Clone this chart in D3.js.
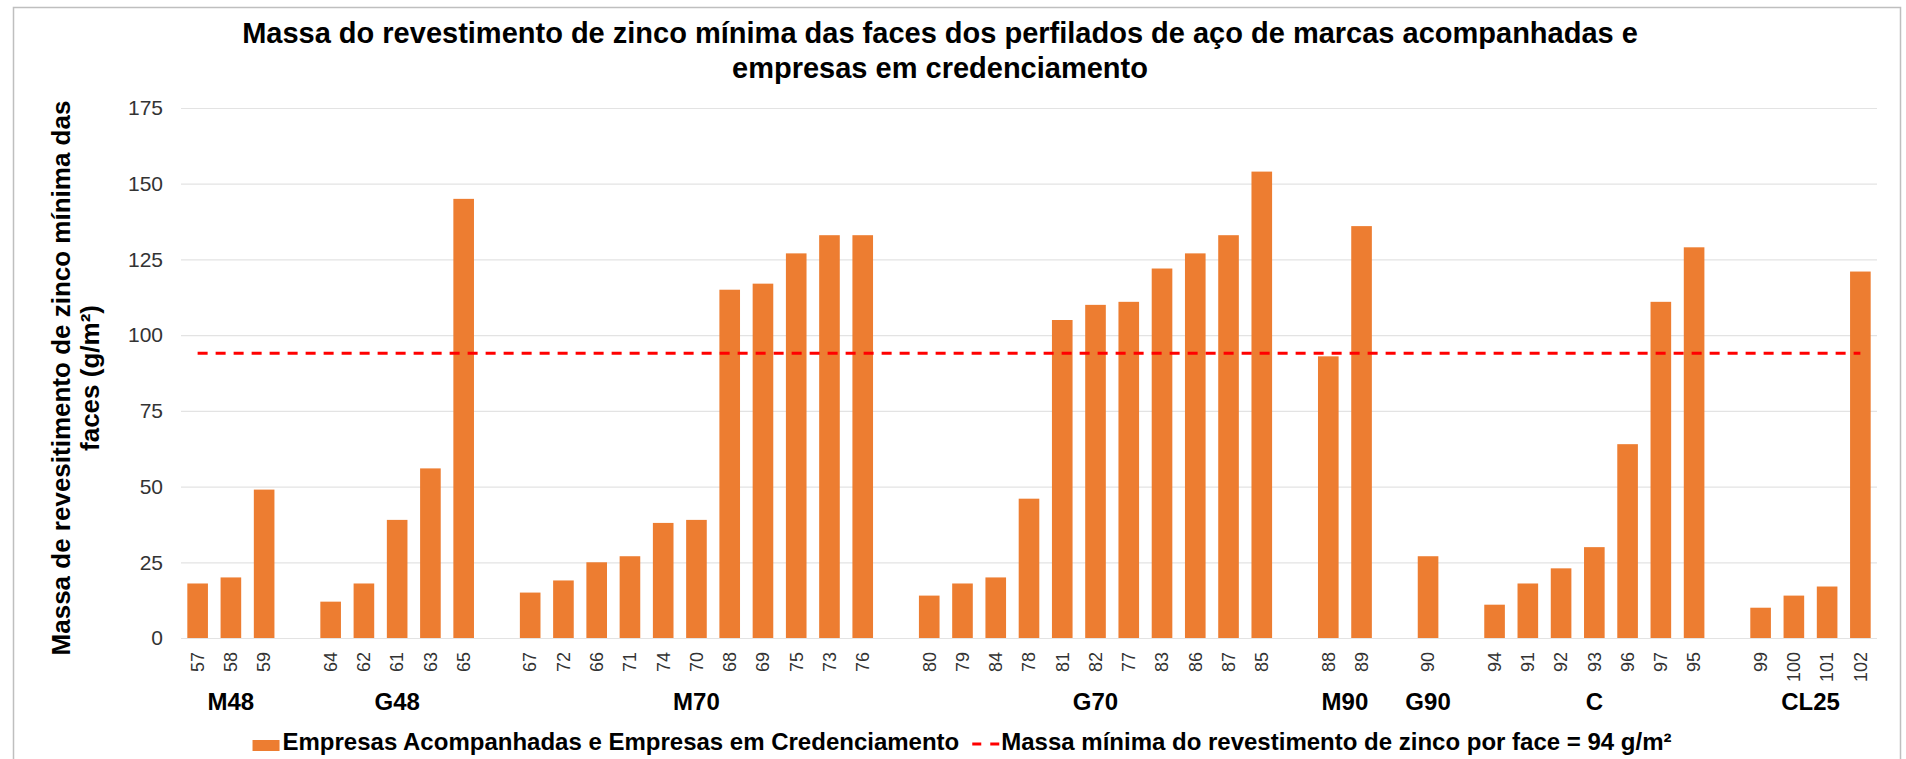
<!DOCTYPE html>
<head>
<meta charset="utf-8" />
</head>
<style>
body { margin: 0; background: #fff; }
svg { display: block; }
text { font-family: "Liberation Sans", Arial, Helvetica, sans-serif; }
.tick text { fill: #333; }
.title { font-size: 29px; font-weight: bold; fill: #000; }
.ytitle { font-size: 26px; font-weight: bold; fill: #000; }
.group { font-size: 24px; font-weight: bold; fill: #000; }
.legend text { font-size: 24px; font-weight: bold; fill: #000; }
</style>
<body>
<script src="https://cdn.jsdelivr.net/npm/d3@7"></script>
<script>
// groups of brands, sample ids and measured minimum zinc mass (g/m2)
var groupNames = ["M48", "G48", "M70", "G70", "M90", "G90", "C", "CL25"];
var sampleIds = [
  [57, 58, 59],
  [64, 62, 61, 63, 65],
  [67, 72, 66, 71, 74, 70, 68, 69, 75, 73, 76],
  [80, 79, 84, 78, 81, 82, 77, 83, 86, 87, 85],
  [88, 89],
  [90],
  [94, 91, 92, 93, 96, 97, 95],
  [99, 100, 101, 102]
];
var zincMass = [
  [18, 20, 49],
  [12, 18, 39, 56, 145],
  [15, 19, 25, 27, 38, 39, 115, 117, 127, 133, 133],
  [14, 18, 20, 46, 105, 110, 111, 122, 127, 133, 154],
  [93, 136],
  [27],
  [11, 18, 23, 30, 64, 111, 129],
  [10, 14, 17, 121]
];
var minMass = 94;
var yTicks = [0, 25, 50, 75, 100, 125, 150, 175];
var seriesName = "Empresas Acompanhadas e Empresas em Credenciamento";
var lineName = "Massa mínima do revestimento de zinco por face = 94 g/m²";

var width = 1906, height = 759;
var margin = {left: 181, right: 29, top: 108, bottom: 121};

// flat list of categories, with an empty slot between groups
var cats = [], bars = [];
groupNames.forEach(function(g, gi) {
  if (gi > 0) cats.push("gap" + gi);
  sampleIds[gi].forEach(function(id, i) {
    cats.push(String(id));
    bars.push({id: String(id), value: zincMass[gi][i], group: g});
  });
});

var svg = d3.select("body").append("svg")
  .attr("width", width)
  .attr("height", height);

// chart area border
svg.append("rect")
  .attr("x", 13.5).attr("y", 7.5)
  .attr("width", 1887).attr("height", 780)
  .attr("fill", "none")
  .attr("stroke", "#bfbfbf")
  .attr("stroke-width", 1.5);

var x = d3.scaleBand()
  .domain(cats)
  .range([margin.left, width - margin.right])
  .paddingInner(0.38)
  .paddingOuter(0.19);

var y = d3.scaleLinear()
  .domain([0, 175])
  .range([height - margin.bottom, margin.top]);

// gridlines + y labels
var yAxis = svg.append("g")
  .attr("transform", "translate(" + margin.left + ",0)")
  .call(d3.axisLeft(y).tickValues(yTicks)
    .tickSize(-(width - margin.left - margin.right))
    .tickPadding(18));
yAxis.select(".domain").remove();
yAxis.selectAll(".tick line").attr("stroke", "#e3e3e3").attr("stroke-width", 1.2);
yAxis.selectAll(".tick text").style("font-size", "21px");

// bars
svg.append("g").selectAll("rect")
  .data(bars)
  .enter().append("rect")
  .attr("x", function(d) { return x(d.id); })
  .attr("y", function(d) { return y(d.value); })
  .attr("width", x.bandwidth())
  .attr("height", function(d) { return y(0) - y(d.value); })
  .attr("fill", "#ED7D31");

// x labels (sample ids), rotated
var xAxis = svg.append("g")
  .attr("transform", "translate(0," + y(0) + ")")
  .call(d3.axisBottom(x).tickSize(0)
    .tickFormat(function(d) { return d.indexOf("gap") === 0 ? "" : d; }));
xAxis.select(".domain").remove();
xAxis.selectAll(".tick text")
  .style("font-size", "18px")
  .attr("text-anchor", "end")
  .attr("dy", "0.35em")
  .attr("transform", "translate(0,14) rotate(-90)")
  .attr("x", 0).attr("y", 0);

// group labels centred under each group
svg.append("g").selectAll("text")
  .data(groupNames)
  .enter().append("text")
  .attr("class", "group")
  .attr("text-anchor", "middle")
  .attr("x", function(g, gi) {
    var ids = sampleIds[gi];
    var a = x(String(ids[0])), b = x(String(ids[ids.length - 1])) + x.bandwidth();
    return (a + b) / 2;
  })
  .attr("y", 710)
  .text(function(g) { return g; });

// minimum line (dashed)
var line = d3.line()
  .x(function(d) { return x(d.id) + x.bandwidth() / 2; })
  .y(function() { return y(minMass); });
svg.append("path")
  .datum([bars[0], bars[bars.length - 1]])
  .attr("d", line)
  .attr("fill", "none")
  .attr("stroke", "#ff0000")
  .attr("stroke-width", 3)
  .attr("stroke-dasharray", "10,8");

// title
var title = svg.append("text")
  .attr("class", "title")
  .attr("text-anchor", "middle");
title.append("tspan").attr("x", 940).attr("y", 43)
  .text("Massa do revestimento de zinco mínima das faces dos perfilados de aço de marcas acompanhadas e");
title.append("tspan").attr("x", 940).attr("y", 78)
  .text("empresas em credenciamento");

// y axis title
var yt = svg.append("text")
  .attr("class", "ytitle")
  .attr("text-anchor", "middle")
  .attr("transform", "translate(0,378) rotate(-90)");
yt.append("tspan").attr("x", 0).attr("y", 70)
  .text("Massa de revesitimento de zinco mínima das");
yt.append("tspan").attr("x", 0).attr("y", 99)
  .text("faces (g/m²)");

// legend
var legend = svg.append("g").attr("class", "legend");
var l1 = legend.append("g");
l1.append("rect").attr("x", 0).attr("y", -10).attr("width", 27).attr("height", 11).attr("fill", "#ED7D31");
var t1 = l1.append("text").attr("x", 30).attr("y", 0).text(seriesName);
var w1 = 30 + t1.node().getComputedTextLength();
var l2 = legend.append("g").attr("transform", "translate(" + (w1 + 13) + ",0)");
l2.append("line").attr("x1", 0).attr("x2", 27).attr("y1", -6).attr("y2", -6)
  .attr("stroke", "#ff0000").attr("stroke-width", 3).attr("stroke-dasharray", "9,9");
var t2 = l2.append("text").attr("x", 29).attr("y", 0).text(lineName);
var total = w1 + 13 + 29 + t2.node().getComputedTextLength();
legend.attr("transform", "translate(" + (962 - total / 2) + ",750)");
</script>
</body>
